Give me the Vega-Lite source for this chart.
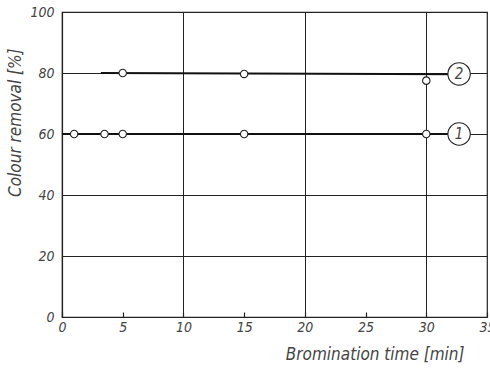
{
  "$schema": "https://vega.github.io/schema/vega-lite/v6.json",
  "width": 425,
  "height": 305,
  "autosize": {"type": "none"},
  "padding": {"left": 62, "top": 12, "right": 3, "bottom": 52},
  "background": "white",
  "config": {
    "view": {"stroke": "#222", "strokeWidth": 1.2},
    "font": "DejaVu Sans Condensed, DejaVu Sans, sans-serif",
    "axis": {
      "labelFont": "DejaVu Sans Condensed, DejaVu Sans, sans-serif",
      "labelFontStyle": "italic",
      "labelFontWeight": 300,
      "labelFontSize": 14,
      "labelColor": "#444",
      "titleFont": "DejaVu Sans Condensed, DejaVu Sans, sans-serif",
      "titleFontStyle": "italic",
      "titleFontWeight": 300,
      "titleFontSize": 17,
      "titleColor": "#444",
      "domainColor": "#222",
      "domainWidth": 1.2,
      "gridColor": "#222",
      "gridOpacity": 1,
      "gridWidth": 1,
      "tickColor": "#222"
    }
  },
  "datasets": {
    "fit": [
      {"series": "1", "time": 0, "removal": 60},
      {"series": "1", "time": 32.7, "removal": 60},
      {"series": "2", "time": 3.2, "removal": 80},
      {"series": "2", "time": 32.7, "removal": 79.6}
    ],
    "measured": [
      {"series": "1", "time": 1, "removal": 60},
      {"series": "1", "time": 3.5, "removal": 60},
      {"series": "1", "time": 5, "removal": 60},
      {"series": "1", "time": 15, "removal": 60},
      {"series": "1", "time": 30, "removal": 60},
      {"series": "2", "time": 5, "removal": 80},
      {"series": "2", "time": 15, "removal": 79.7},
      {"series": "2", "time": 30, "removal": 77.5}
    ],
    "tags": [
      {"series": "1", "time": 32.7, "removal": 60},
      {"series": "2", "time": 32.7, "removal": 79.7}
    ]
  },
  "layer": [
    {
      "data": {"name": "fit"},
      "mark": {"type": "line", "color": "#111", "strokeWidth": 2},
      "encoding": {
        "x": {
          "field": "time", "type": "quantitative",
          "scale": {"domain": [0, 35], "nice": false, "zero": false},
          "axis": {
            "values": [0, 5, 10, 15, 20, 25, 30, 35],
            "title": "Bromination time [min]",
            "titleAnchor": "end",
            "titleAlign": "right",
            "titleBaseline": "middle",
            "titleX": 402,
            "titleY": 37,
            "labelPadding": 8,
            "labelFlush": false,
            "labelOverlap": false,
            "tickSize": -5,
            "tickWidth": 1.2,
            "grid": true,
            "gridOpacity": {"condition": {"test": "datum.value % 10 === 0 && datum.value > 0 && datum.value < 35", "value": 1}, "value": 0}
          }
        },
        "y": {
          "field": "removal", "type": "quantitative",
          "scale": {"domain": [0, 100], "nice": false},
          "axis": {
            "values": [0, 20, 40, 60, 80, 100],
            "title": "Colour removal [%]",
            "titleAnchor": "end",
            "titleAlign": "right",
            "titleBaseline": "middle",
            "titleX": -47,
            "titleY": 36,
            "labelPadding": 8,
            "labelFlush": false,
            "tickSize": 0,
            "grid": true
          }
        },
        "detail": {"field": "series"}
      }
    },
    {
      "data": {"name": "measured"},
      "mark": {"type": "point", "shape": "circle", "filled": false, "fill": "white", "fillOpacity": 1, "stroke": "#222", "strokeWidth": 1.1, "size": 55, "opacity": 1},
      "encoding": {
        "x": {"field": "time", "type": "quantitative"},
        "y": {"field": "removal", "type": "quantitative"}
      }
    },
    {
      "data": {"name": "tags"},
      "mark": {"type": "point", "shape": "circle", "filled": false, "fill": "white", "fillOpacity": 1, "stroke": "#222", "strokeWidth": 1.1, "size": 500, "opacity": 1},
      "encoding": {
        "x": {"field": "time", "type": "quantitative"},
        "y": {"field": "removal", "type": "quantitative"}
      }
    },
    {
      "data": {"name": "tags"},
      "mark": {"type": "text", "font": "DejaVu Sans Condensed, DejaVu Sans, sans-serif", "fontStyle": "italic", "fontWeight": 300, "fontSize": 15, "color": "#444", "baseline": "middle", "align": "center"},
      "encoding": {
        "x": {"field": "time", "type": "quantitative"},
        "y": {"field": "removal", "type": "quantitative"},
        "text": {"field": "series"}
      }
    }
  ]
}
